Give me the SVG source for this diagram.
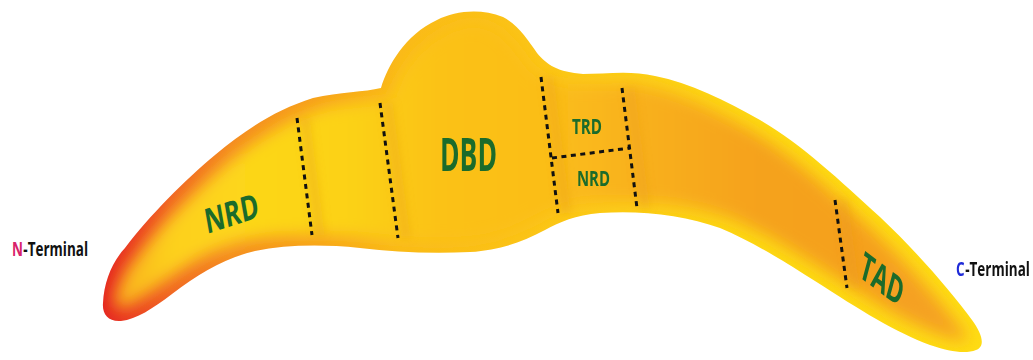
<svg xmlns="http://www.w3.org/2000/svg" width="1033" height="360" viewBox="0 0 1033 360">
<style>
.lbl{fill:#1b6b2b;font-family:"Open Sans","Liberation Sans",sans-serif;font-weight:700}
.term{fill:#111;font-family:"Open Sans","Liberation Sans",sans-serif;font-weight:700;font-size:19px}
.dash{stroke:#111;stroke-width:3;stroke-dasharray:5 4.5;fill:none}
.shade{stroke:#e4951c;stroke-width:9;fill:none;opacity:0.35}
</style>
<defs>
<path id="shape" d="M103,303 C104,282 112,262 125,248 C150,215 185,180 215,155 C245,130 275,110 313,98 C340,92 365,92 381,88 C388,65 405,35 437,20 C455,11 480,8 503,17 C518,25 528,40 537,53 C547,65 558,72 583,74 C605,74 630,70 655,76 C690,83 725,100 760,120 C800,143 840,180 880,217 C915,250 950,290 972,320 C982,334 986,346 976,350 C966,354 950,352 930,345 C895,332 860,310 815,281 C785,262 755,243 720,228 C685,215 640,210 600,213 C575,215 560,222 545,230 C520,243 500,250 470,252 C430,254 395,252 360,248 C320,244 285,245 255,251 C225,258 200,273 172,294 C152,309 137,319 121,321 C108,322 102,314 103,303 Z"/>
<clipPath id="clip"><use href="#shape"/></clipPath>
<linearGradient id="rim" gradientUnits="userSpaceOnUse" x1="100" y1="0" x2="990" y2="0">
<stop offset="0" stop-color="#e42322"/>
<stop offset="0.034" stop-color="#ea3c24"/>
<stop offset="0.079" stop-color="#f06425"/>
<stop offset="0.146" stop-color="#f48a22"/>
<stop offset="0.247" stop-color="#f7a11d"/>
<stop offset="0.337" stop-color="#fab91a"/>
<stop offset="0.472" stop-color="#fbc318"/>
<stop offset="0.584" stop-color="#fcce16"/>
<stop offset="0.742" stop-color="#fdd813"/>
<stop offset="1" stop-color="#fedc14"/>
</linearGradient>
<linearGradient id="core" gradientUnits="userSpaceOnUse" x1="100" y1="0" x2="990" y2="0">
<stop offset="0" stop-color="#f9ac1d"/>
<stop offset="0.067" stop-color="#fdd01b"/>
<stop offset="0.169" stop-color="#fdd81a"/>
<stop offset="0.292" stop-color="#fcd218"/>
<stop offset="0.393" stop-color="#fbc219"/>
<stop offset="0.517" stop-color="#fbbe1a"/>
<stop offset="0.618" stop-color="#f9b11d"/>
<stop offset="0.742" stop-color="#f6a31f"/>
<stop offset="0.876" stop-color="#f5a020"/>
<stop offset="1" stop-color="#f6a420"/>
</linearGradient>
<filter id="inset" filterUnits="userSpaceOnUse" x="0" y="0" width="1033" height="360">
<feMorphology operator="erode" radius="10" in="SourceGraphic" result="e"/>
<feGaussianBlur in="e" stdDeviation="8"/>
</filter>
<filter id="soft" filterUnits="userSpaceOnUse" x="0" y="0" width="1033" height="360">
<feGaussianBlur stdDeviation="4"/>
</filter>
</defs>
<g id="body">
<use href="#shape" fill="url(#rim)"/>
<g clip-path="url(#clip)">
<use href="#shape" fill="url(#core)" filter="url(#inset)"/>
<g filter="url(#soft)">
<line class="shade" x1="305" y1="118" x2="320" y2="235"/>
<line class="shade" x1="388" y1="103" x2="406" y2="238"/>
<line class="shade" x1="549" y1="77" x2="566" y2="213"/>
<line class="shade" x1="630" y1="88" x2="645" y2="208"/>
<line class="shade" x1="843" y1="200" x2="855" y2="288"/>
</g>
</g>
</g>
<g id="boundaries">
<line class="dash" x1="297" y1="118" x2="312" y2="235"/>
<line class="dash" x1="380" y1="103" x2="398" y2="238"/>
<line class="dash" x1="541" y1="77" x2="558" y2="213"/>
<line class="dash" x1="622" y1="88" x2="637" y2="208"/>
<line class="dash" x1="552" y1="158" x2="630" y2="148"/>
<line class="dash" x1="835" y1="200" x2="847" y2="288"/>
</g>
<g id="node-NRD">
<text class="lbl" font-size="34" transform="translate(207,234) rotate(-18) skewX(-8)" textLength="56" lengthAdjust="spacingAndGlyphs">NRD</text>
</g>
<g id="node-DBD">
<text class="lbl" x="440" y="171" font-size="46" textLength="57" lengthAdjust="spacingAndGlyphs">DBD</text>
</g>
<g id="node-TRD">
<text class="lbl" x="572" y="134" font-size="22" textLength="30" lengthAdjust="spacingAndGlyphs">TRD</text>
</g>
<g id="node-NRD2">
<text class="lbl" x="577" y="186" font-size="22" textLength="33" lengthAdjust="spacingAndGlyphs">NRD</text>
</g>
<g id="node-TAD">
<text class="lbl" font-size="34" transform="translate(858,276) rotate(37) skewX(22)" textLength="52" lengthAdjust="spacingAndGlyphs">TAD</text>
</g>
<g id="n-terminal" transform="translate(12,256) scale(0.71,1)">
<text class="term" x="0" y="0" style="fill:#d8226a">N</text>
<text class="term" x="16" y="0">-Terminal</text>
</g>
<g id="c-terminal" transform="translate(956,276) scale(0.71,1)">
<text class="term" x="0" y="0" style="fill:#1f2bd8">C</text>
<text class="term" x="13" y="0">-Terminal</text>
</g>
</svg>
